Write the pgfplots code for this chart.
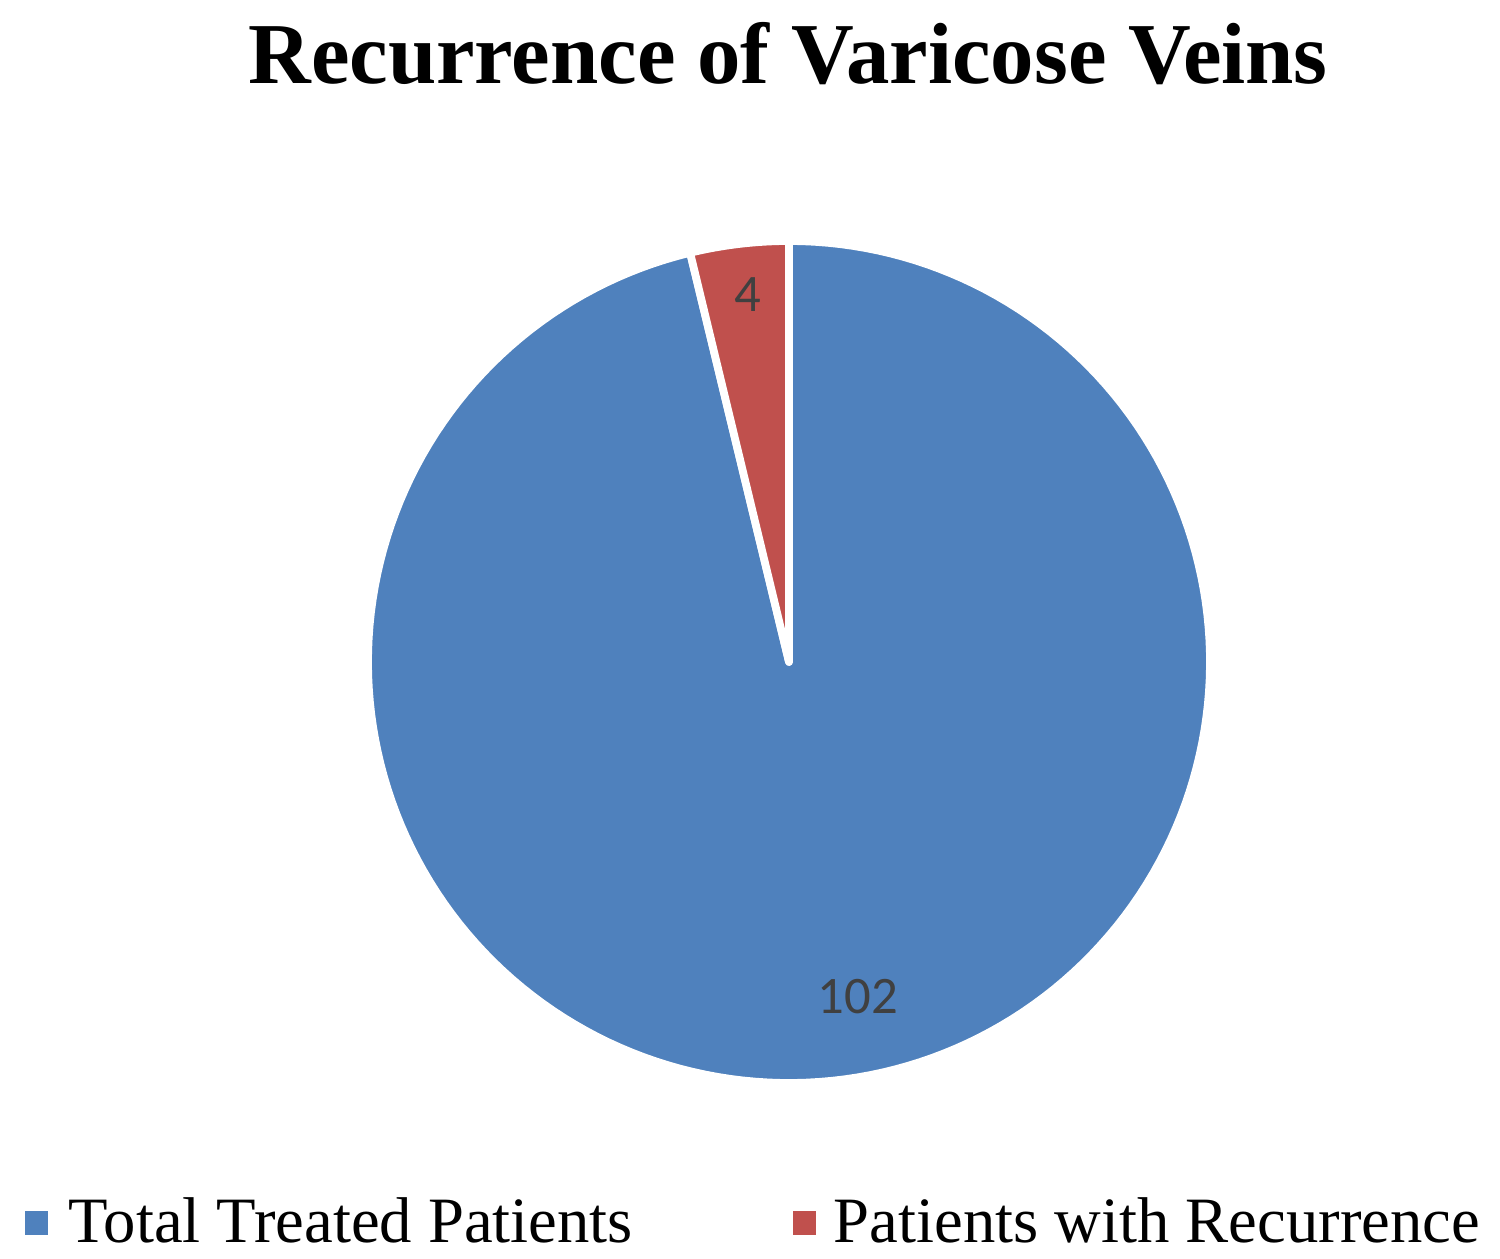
\documentclass[border=0pt]{standalone}
\usepackage{pgfplots}
\usepackage{pgfplotstable}
\usepackage{fontspec}
\pgfplotsset{compat=1.18}
\setmainfont{Liberation Serif}
\newfontfamily\lblfont{Carlito}

\definecolor{pieblue}{HTML}{4F81BD}
\definecolor{piered}{HTML}{C0504D}
\definecolor{lblgray}{HTML}{404040}

% slice values
\pgfplotstableread{
name n
total 102
recur 4
}\piedata

\begin{document}
\begin{tikzpicture}
\pgfplotstablegetelem{0}{n}\of\piedata \let\va=\pgfplotsretval
\pgfplotstablegetelem{1}{n}\of\piedata \let\vb=\pgfplotsretval
\pgfmathsetmacro{\cut}{90+360*\vb/(\va+\vb)}
\pgfmathsetmacro{\full}{450}
\begin{axis}[
  scale only axis,
  width=15cm, height=12.59cm,
  xmin=0, xmax=1500, ymin=0, ymax=1259,
  y dir=reverse,
  hide axis,
  clip=false,
]
  % pie centre (789,662) radius 421 in pixel units
  \addplot[fill=pieblue, draw=white, line width=2.2pt, line join=round, samples=200, domain=\cut:\full, variable=\t]
    ({789+421*cos(t)}, {662-421*sin(t)}) -- (axis cs:789,662) -- cycle;
  \addplot[fill=piered, draw=white, line width=2.2pt, line join=round, samples=30, domain=90:\cut, variable=\t]
    ({789+421*cos(t)}, {662-421*sin(t)}) -- (axis cs:789,662) -- cycle;

  \path (axis cs:0,0) rectangle (axis cs:1500,1259);

  \node[font=\fontsize{24.7}{28}\selectfont\bfseries, anchor=base] at (axis cs:788,84) {Recurrence of Varicose Veins};

  \node[font=\lblfont\fontsize{15}{17}\selectfont, text=lblgray, anchor=base] at (axis cs:748,312) {4};
  \node[font=\lblfont\fontsize{15}{17}\selectfont, text=lblgray, anchor=base] at (axis cs:858,1014) {102};

  \fill[pieblue] (axis cs:25,1211) rectangle (axis cs:48,1235);
  \node[font=\fontsize{18.4}{21}\selectfont, anchor=base west, inner sep=0pt] at (axis cs:68,1243) {Total Treated Patients};
  \fill[piered] (axis cs:793,1211) rectangle (axis cs:816,1235);
  \node[font=\fontsize{18.4}{21}\selectfont, anchor=base west, inner sep=0pt] at (axis cs:833,1243) {Patients with Recurrence};
\end{axis}
\end{tikzpicture}
\end{document}
